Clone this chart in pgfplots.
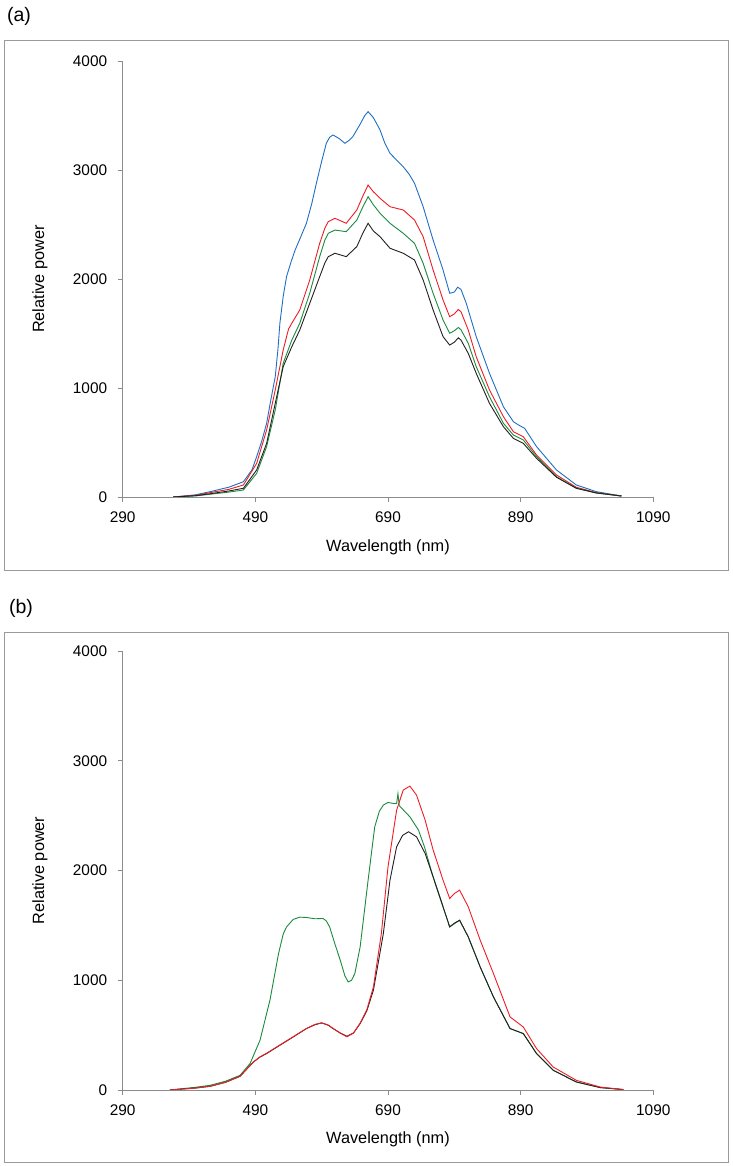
\documentclass[border=0pt]{standalone}
\usepackage{fontspec}
\setmainfont{Liberation Sans}
\usepackage{pgfplots}
\pgfplotsset{compat=1.18}
\definecolor{cblue}{HTML}{1F6EC1}
\definecolor{cred}{HTML}{EE1C25}
\definecolor{cgreen}{HTML}{1A8A3C}
\definecolor{cblack}{HTML}{231F20}
\definecolor{axgray}{HTML}{8C8C8C}
\definecolor{boxgray}{HTML}{9A9A9A}
\pgfplotsset{myax/.style={
  scale only axis, width=530.6pt,
  xmin=290, xmax=1090, ymin=0, ymax=4000,
  xtick={290,490,690,890,1090}, ytick={0,1000,2000,3000,4000},
  axis x line=bottom, axis y line=left,
  axis line style={draw=axgray, line width=0.9pt, -},
  tick style={draw=axgray, line width=0.9pt},
  tick align=outside, major tick length=5pt,
  enlargelimits=false, scaled ticks=false,
  /pgf/number format/1000 sep={},
  /pgf/number format/assume math mode=true,
  tick label style={font=\fontsize{15.4}{18}\selectfont},
  xticklabel style={yshift=-6pt},
  yticklabel style={xshift=-7pt},
  label style={font=\fontsize{16.3}{19}\selectfont},
  xlabel={Wavelength (nm)}, ylabel={Relative power},
  ylabel style={at={(axis description cs:-0.156,0.5)}, anchor=center},
  every axis plot/.append style={line width=0.9pt, no markers},
}}
\begin{document}
\begin{tikzpicture}
\useasboundingbox (0pt,0pt) rectangle (732pt,1166pt);
\draw[boxgray, line width=1pt] (4.5pt,1125pt) rectangle (728pt,595pt);
\draw[boxgray, line width=1pt] (4.5pt,533pt) rectangle (728pt,3pt);
\node[font=\fontsize{19.5}{22}\selectfont] at (19pt,1150pt) {(a)};
\node[font=\fontsize{19.5}{22}\selectfont] at (21pt,558pt) {(b)};
\begin{axis}[myax, at={(122.7pt,669pt)}, anchor=south west, height=436pt,
  xlabel style={at={(axis description cs:0.5,-0.1147)}, anchor=center}]
\addplot[cblue] coordinates {
(366,0) (400,20) (422,49) (450,90) (472,140) (485,250) (492,370) (500,520) (507,676) (513,880) (520,1104) (524,1350) (527,1594) (532,1840) (537,2021) (544,2160) (550,2266) (558,2380) (567,2511) (575,2690) (582,2878) (590,3080) (597,3245) (602,3300) (607,3321) (616,3290) (625,3245) (631,3270) (637,3306) (648,3420) (655,3500) (660,3535) (668,3480) (678,3367) (685,3250) (693,3153) (698,3122) (713,3030) (722,2960) (730,2878) (743,2663) (758,2358) (773,2083) (783,1869) (790,1880) (795,1925) (800,1905) (808,1777) (823,1471) (843,1135) (864,828) (879,691) (887,660) (896,630) (914,462) (944,248) (974,110) (1004,49) (1042,9)};
\addplot[cred] coordinates {
(366,0) (400,15) (422,40) (450,70) (472,110) (492,309) (507,615) (520,982) (532,1349) (540,1540) (545,1594) (557,1716) (572,1991) (587,2327) (595,2470) (600,2526) (610,2557) (620,2530) (627,2511) (643,2633) (652,2760) (660,2862) (668,2800) (678,2740) (693,2663) (713,2633) (730,2541) (743,2388) (758,2083) (773,1807) (783,1654) (790,1680) (796,1720) (800,1700) (811,1532) (823,1287) (843,982) (864,737) (879,599) (894,553) (914,385) (944,202) (974,89) (1004,40) (1042,9)};
\addplot[cgreen] coordinates {
(366,0) (400,10) (422,25) (450,45) (472,64) (492,217) (507,462) (520,798) (532,1227) (545,1440) (557,1594) (572,1869) (587,2205) (595,2360) (600,2419) (610,2449) (627,2434) (643,2541) (652,2660) (660,2755) (668,2680) (678,2603) (693,2511) (713,2419) (730,2327) (743,2144) (758,1869) (773,1624) (783,1502) (790,1525) (796,1555) (800,1535) (811,1410) (823,1196) (843,920) (864,676) (879,569) (894,523) (914,370) (944,186) (974,80) (1004,37) (1042,9)};
\addplot[cblack] coordinates {
(366,0) (400,12) (422,30) (450,55) (472,80) (492,248) (507,492) (520,859) (532,1196) (545,1379) (557,1532) (572,1777) (587,2021) (595,2150) (600,2205) (610,2236) (627,2205) (643,2297) (652,2420) (660,2511) (668,2440) (678,2388) (693,2282) (713,2236) (730,2174) (743,1991) (758,1716) (773,1471) (783,1394) (790,1420) (796,1460) (800,1440) (811,1318) (823,1135) (843,859) (864,645) (879,538) (894,492) (914,355) (944,181) (974,80) (1004,37) (1042,9)};
\end{axis}
\begin{axis}[myax, at={(122.7pt,76pt)}, anchor=south west, height=439pt,
  xlabel style={at={(axis description cs:0.5,-0.1116)}, anchor=center}]
\addplot[cgreen] coordinates {
(361,0) (400,25) (422,43) (445,80) (467,134) (482,241) (497,453) (512,818) (525,1244) (532,1420) (537,1486) (547,1554) (557,1575) (567,1572) (580,1560) (592,1563) (597,1540) (602,1486) (610,1330) (618,1183) (625,1040) (630,985) (635,1000) (640,1061) (648,1304) (660,1912) (670,2398) (677,2540) (683,2596) (690,2620) (698,2611) (703,2610) (705,2700) (707,2590) (715,2540) (723,2489) (736,2368) (745,2215) (758,1942) (773,1669) (783,1486) (798,1547) (811,1395) (829,1121) (849,848) (874,560) (894,514) (914,332) (939,180) (974,73) (1010,22) (1045,4)};
\addplot[cblack] coordinates {
(361,0) (400,18) (422,34) (445,70) (467,125) (487,255) (497,300) (507,332) (527,408) (547,483) (567,560) (580,595) (590,611) (600,590) (607,560) (618,520) (628,490) (638,520) (648,605) (658,720) (668,909) (683,1426) (693,1912) (703,2216) (712,2320) (721,2353) (733,2307) (746,2155) (758,1942) (773,1669) (783,1486) (790,1520) (798,1547) (811,1395) (829,1121) (849,848) (874,560) (894,514) (914,332) (939,180) (974,73) (1010,22) (1045,4)};
\addplot[cred] coordinates {
(361,0) (400,18) (422,34) (445,70) (467,125) (487,255) (497,302) (507,335) (527,410) (547,485) (567,560) (580,598) (590,612) (600,592) (607,562) (618,518) (628,485) (638,518) (648,610) (658,730) (668,939) (680,1426) (690,2033) (703,2550) (713,2733) (723,2769) (733,2687) (746,2459) (758,2188) (773,1912) (783,1745) (790,1790) (798,1821) (811,1669) (829,1365) (849,1061) (874,666) (894,574) (914,377) (939,210) (974,88) (1010,27) (1045,4)};
\end{axis}
\end{tikzpicture}
\end{document}
